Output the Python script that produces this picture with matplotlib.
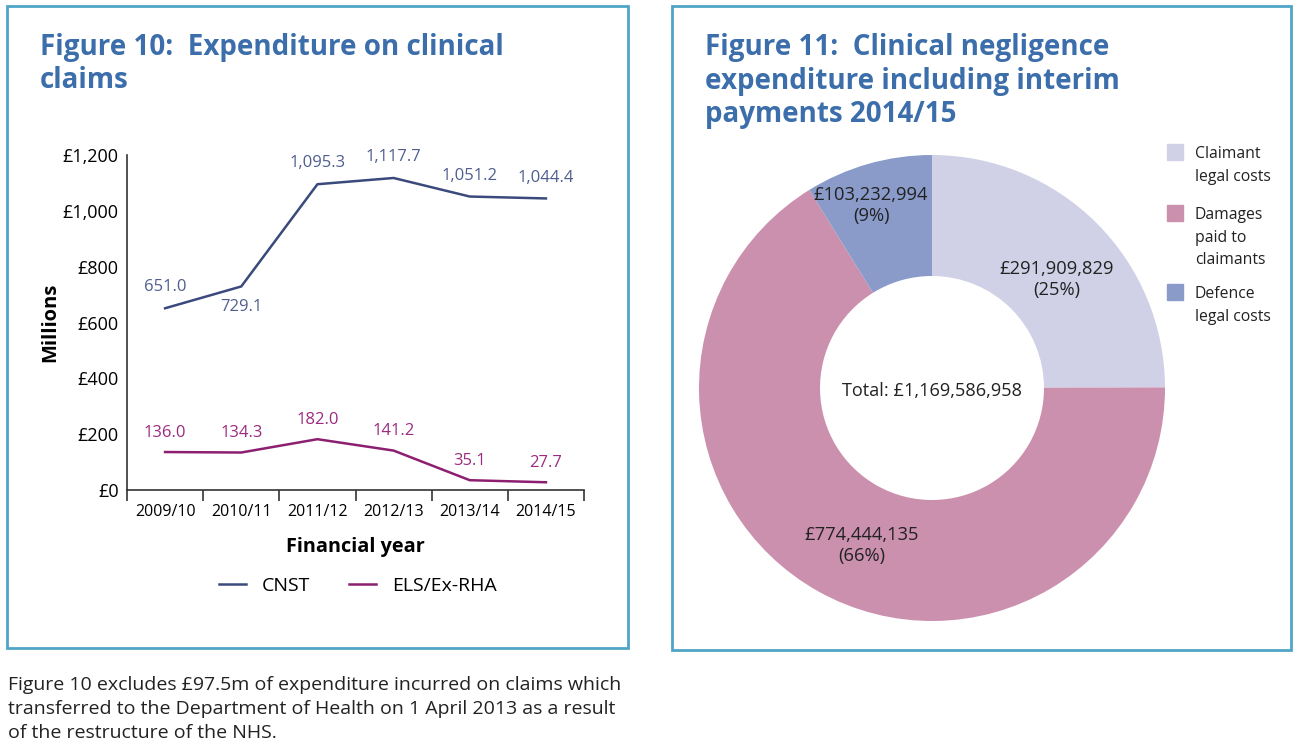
import numpy as np
import matplotlib
matplotlib.use('Agg')
import matplotlib.pyplot as plt
from matplotlib.patches import Rectangle
from matplotlib.lines import Line2D

# figure 10 data
years = ['2009/10', '2010/11', '2011/12', '2012/13', '2013/14', '2014/15']
cnst = [651.0, 729.1, 1095.3, 1117.7, 1051.2, 1044.4]
els = [136.0, 134.3, 182.0, 141.2, 35.1, 27.7]
y_ticks = [0, 200, 400, 600, 800, 1000, 1200]

# figure 11 data
pie_labels = ['Claimant\nlegal costs', 'Damages\npaid to\nclaimants', 'Defence\nlegal costs']
pie_values = [291909829, 774444135, 103232994]
pie_pct = [25, 66, 9]

W, H = 1300, 751
plt.rcParams['font.family'] = ['Open Sans', 'DejaVu Sans']

BOX = '#4fa5c6'
TITLE = '#3b6eaa'
C_CNST = '#3b4a7c'
C_ELS = '#8c1f70'
L_CNST = '#4f5e8e'
L_ELS = '#9a2b80'
PIE_COLS = ['#d0d1e6', '#cb90ae', '#8a9bca']


def px(x0, y0, x1, y1):
    # pixel box -> figure fraction rect
    return [x0 / W, 1 - y1 / H, (x1 - x0) / W, (y1 - y0) / H]


def fx(x):
    return x / W


def fy(y):
    return 1 - y / H


fig = plt.figure(figsize=(W / 100, H / 100), dpi=100)

# panel boxes
for (x0, y0, x1, y1) in [(7, 6, 628, 648), (672, 6, 1291, 650)]:
    fig.patches.append(Rectangle((fx(x0), fy(y1)), (x1 - x0) / W, (y1 - y0) / H,
                                 transform=fig.transFigure, fill=False,
                                 edgecolor=BOX, linewidth=2))

# titles
fig.text(fx(40), fy(64), 'Figure 10:  Expenditure on clinical\nclaims', color=TITLE,
         fontsize=20, fontweight='bold', va='center', ha='left', linespacing=1.2)
fig.text(fx(705), fy(81), 'Figure 11:  Clinical negligence\nexpenditure including interim\npayments 2014/15',
         color=TITLE, fontsize=20, fontweight='bold', va='center', ha='left', linespacing=1.2)

# ---- line chart ----
ax = fig.add_axes(px(127, 155, 584, 490))
x = np.arange(len(years)) + 0.5
ax.plot(x, cnst, color=C_CNST, lw=1.8, label='CNST')
ax.plot(x, els, color=C_ELS, lw=1.8, label='ELS/Ex-RHA')
ax.set_xlim(0, len(years))
ax.set_ylim(0, 1200)

cnst_off = [15, -15, 15, 15, 15, 15]
for xi, v, o in zip(x, cnst, cnst_off):
    ax.annotate('{:,.1f}'.format(v), (xi, v), xytext=(0, o), textcoords='offset points',
                ha='center', va='center', color=L_CNST, fontsize=12)
for xi, v in zip(x, els):
    ax.annotate('{:,.1f}'.format(v), (xi, v), xytext=(0, 14), textcoords='offset points',
                ha='center', va='center', color=L_ELS, fontsize=12)

ax.set_yticks(y_ticks)
ax.set_yticklabels(['£{:,}'.format(t) for t in y_ticks])
ax.set_xticks(np.arange(len(years) + 1))
ax.set_xticklabels([])
ax.set_xticks(x, minor=True)
ax.set_xticklabels(years, minor=True)
ax.tick_params(axis='x', which='major', length=8, width=1.2, color='#333333', direction='out')
ax.tick_params(axis='x', which='minor', length=0, pad=10, labelsize=11.5)
ax.tick_params(axis='y', length=0, pad=6, labelsize=13)
for s in ['top', 'right']:
    ax.spines[s].set_visible(False)
for s in ['left', 'bottom']:
    ax.spines[s].set_color('#333333')
    ax.spines[s].set_linewidth(1.2)
ax.set_xlabel('Financial year', fontsize=14.3, fontweight='bold', labelpad=12)
ax.set_ylabel('Millions', fontsize=14.5, fontweight='bold', labelpad=2)

fig.legend(handles=[Line2D([], [], color=C_CNST, lw=1.8), Line2D([], [], color=C_ELS, lw=1.8)],
           labels=['CNST', 'ELS/Ex-RHA'], ncol=2, loc='center', frameon=False,
           bbox_to_anchor=(fx(358), fy(586)), fontsize=14, handlelength=1.4,
           columnspacing=2.0, handletextpad=0.8)

# ---- donut ----
r_out, r_in = 233, 112
cx, cy = 932, 388
pax = fig.add_axes(px(cx - r_out, cy - r_out, cx + r_out, cy + r_out))
wedges, _ = pax.pie(pie_values, colors=PIE_COLS, startangle=90, counterclock=False,
                    radius=1, wedgeprops=dict(width=1 - r_in / r_out, linewidth=0))
pax.set_xlim(-1, 1)
pax.set_ylim(-1, 1)
pax.set_aspect('equal')
pax.axis('off')

label_r = [0.71, 0.74, 0.825]
label_shift = [-4, 5, 2.6]
for w, v, p, r, sh in zip(wedges, pie_values, pie_pct, label_r, label_shift):
    ang = np.deg2rad((w.theta1 + w.theta2) / 2 + sh)
    pax.text(r * np.cos(ang), r * np.sin(ang), '£{:,}\n({}%)'.format(v, p),
             ha='center', va='center', fontsize=13.2, color='#222222', linespacing=1.2)
pax.text(0, -0.015, 'Total: £{:,}'.format(sum(pie_values)), ha='center', va='center',
         fontsize=13.1, color='#222222')

# legend squares
leg_y = [152, 213, 292]
for lab, col, yy in zip(pie_labels, PIE_COLS, leg_y):
    fig.patches.append(Rectangle((fx(1167), fy(yy + 8)), 16 / W, 16 / H,
                                 transform=fig.transFigure, color=col))
    fig.text(fx(1195), fy(yy - 6), lab, ha='left', va='top', fontsize=11.3,
             color='#222222', linespacing=1.55)

# caption
fig.text(fx(8), fy(676), 'Figure 10 excludes £97.5m of expenditure incurred on claims which\n'
         'transferred to the Department of Health on 1 April 2013 as a result\n'
         'of the restructure of the NHS.', ha='left', va='top', fontsize=14,
         color='#222222', linespacing=1.42)

fig.savefig('out.png', dpi=100)
